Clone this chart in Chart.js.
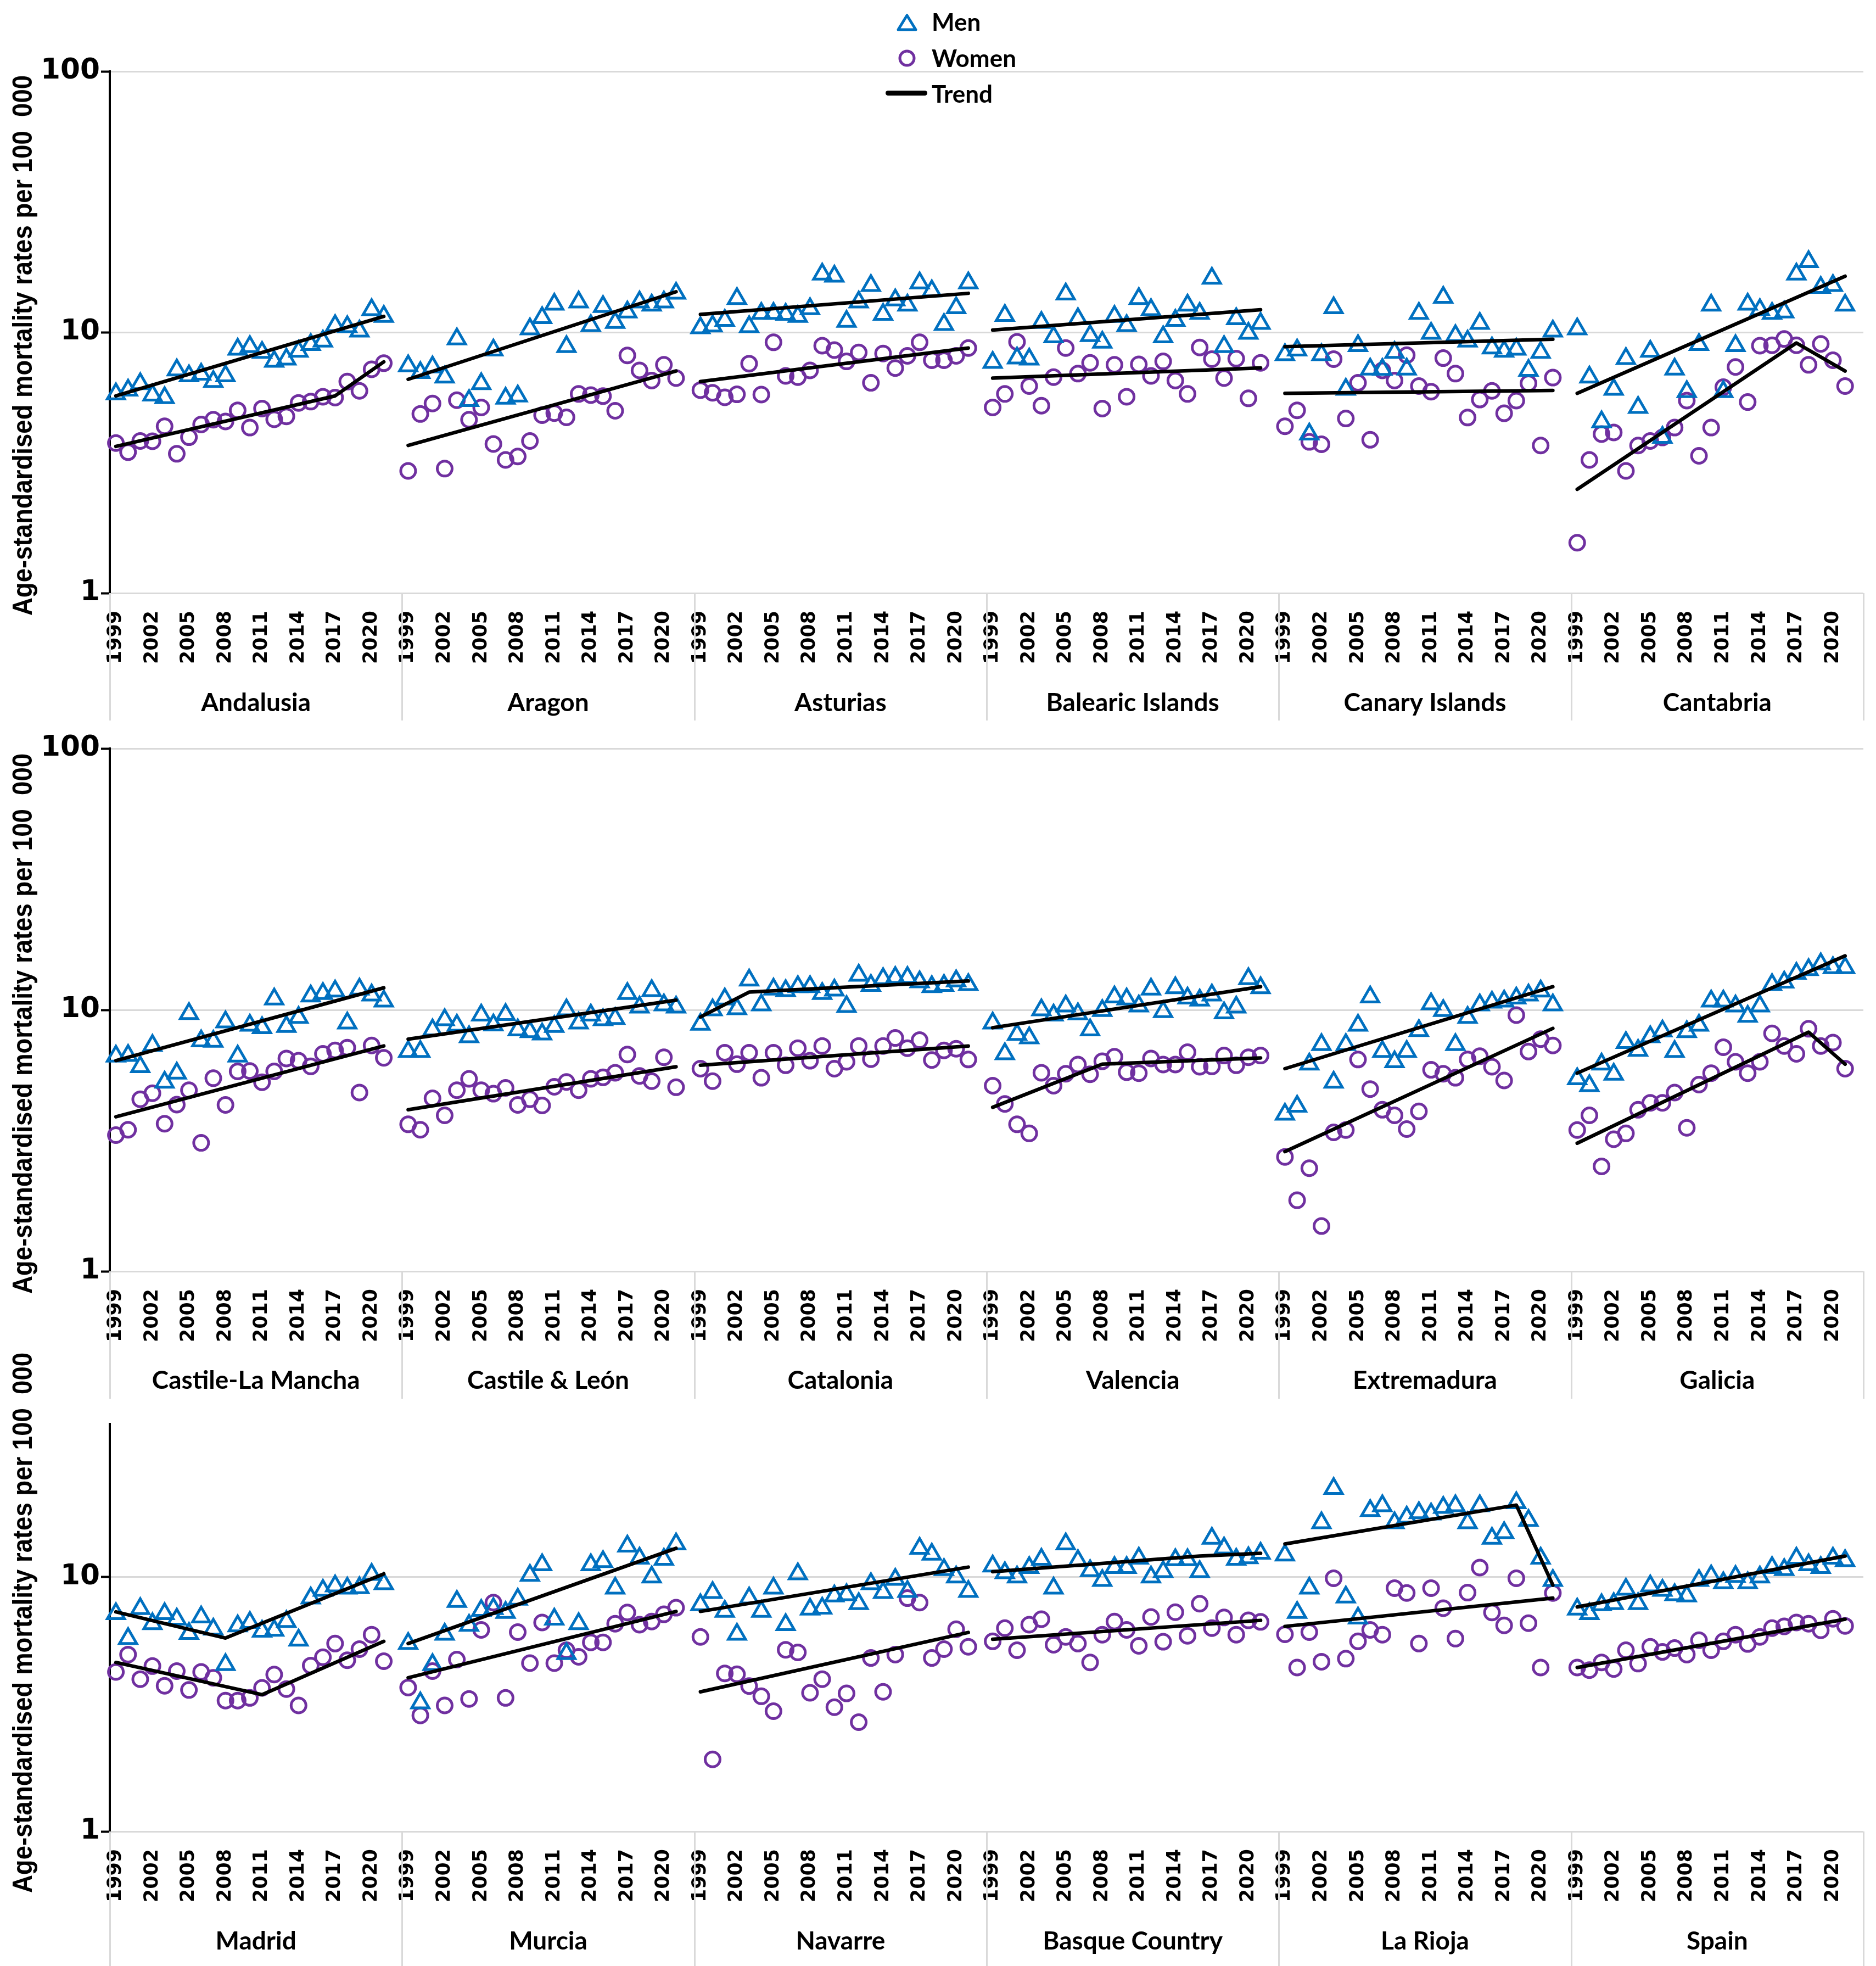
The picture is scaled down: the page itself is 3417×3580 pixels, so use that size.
<!DOCTYPE html>
<html>
<head>
<meta charset="utf-8">
<script src="https://cdn.jsdelivr.net/npm/chart.js@4.4.1/dist/chart.umd.min.js"></script>
<style>
  html, body { margin: 0; padding: 0; background: #fff; }
  #wrap { position: relative; width: 3417px; height: 3580px; overflow: hidden; background: #fff; }
  canvas { position: absolute; left: 0; }
  .ytitle { position: absolute; left: 41px; white-space: nowrap; transform: translate(-50%, -50%) rotate(-90deg);
            font: bold 50px 'Liberation Sans Narrow', 'Liberation Sans', Arial, sans-serif; color: #000; }
  .legtxt { position: absolute; left: 1697px; transform: translateY(-50%); font: bold 44px Lato, 'Open Sans', sans-serif; color: #000; white-space: nowrap; }
  .legsym { position: absolute; }
</style>
</head>
<body>
<div id="wrap">
  <canvas id="row0" width="3417" height="1330" style="top:0px"></canvas>
  <canvas id="row1" width="3417" height="1230" style="top:1330px"></canvas>
  <canvas id="row2" width="3417" height="1020" style="top:2560px"></canvas>
  <div class="ytitle" style="top:629px">Age-standardised mortality rates per 100&nbsp; 000</div>
  <div class="ytitle" style="top:1864px">Age-standardised mortality rates per 100&nbsp; 000</div>
  <div class="ytitle" style="top:2955px">Age-standardised mortality rates per 100&nbsp; 000</div>
  <svg class="legsym" style="left:1632px;top:24px" width="40" height="34"><polygon points="20,4 36,30 4,30" fill="none" stroke="#0070C0" stroke-width="5" stroke-linejoin="round"/></svg>
  <div class="legtxt" style="top:39px">Men</div>
  <svg class="legsym" style="left:1633px;top:87px" width="38" height="38"><circle cx="19" cy="19" r="13" fill="none" stroke="#7030A0" stroke-width="5"/></svg>
  <div class="legtxt" style="top:105px">Women</div>
  <div class="legsym" style="left:1613px;top:165px;width:76px;height:9px;background:#000;border-radius:5px"></div>
  <div class="legtxt" style="top:170px">Trend</div>
</div>
<script>
// ---------------- DATA ----------------
const years = [1999,2000,2001,2002,2003,2004,2005,2006,2007,2008,2009,2010,2011,2012,2013,2014,2015,2016,2017,2018,2019,2020,2021];
const yearTickLabels = [1999,2002,2005,2008,2011,2014,2017,2020];
const regions = ["Andalusia","Aragon","Asturias","Balearic Islands","Canary Islands","Cantabria",
  "Castile-La Mancha","Castile & León","Catalonia","Valencia","Extremadura","Galicia",
  "Madrid","Murcia","Navarre","Basque Country","La Rioja","Spain"];
const yTickValues = [[1,10,100],[1,10,100],[1,10]];
const yMaxValues = [100,100,40];

const menRates = [
  [5.8,6.0,6.35,5.74,5.61,7.17,6.8,6.9,6.47,6.8,8.6,8.8,8.37,7.73,7.89,8.45,8.97,9.24,10.6,10.5,10.1,12.2,11.5],
  [7.43,7.0,7.36,6.73,9.42,5.47,6.35,8.54,5.58,5.69,10.3,11.37,12.8,8.8,13.06,10.6,12.55,10.9,11.95,13.06,12.7,13.06,14.1],
  [10.4,10.56,11.1,13.45,10.5,11.8,11.8,11.7,11.5,12.3,16.7,16.4,11.0,13.06,15.1,11.7,13.3,12.7,15.45,14.4,10.7,12.4,15.45],
  [7.66,11.6,7.96,7.89,10.9,9.6,14.0,11.26,9.7,9.15,11.5,10.6,13.45,12.2,9.6,11.1,12.7,11.8,16.1,8.8,11.26,9.9,10.8],
  [8.2,8.54,4.07,8.2,12.4,6.04,8.88,7.22,7.2,8.37,7.22,11.8,9.9,13.6,9.7,9.24,10.8,8.7,8.45,8.6,7.14,8.37,10.1],
  [10.3,6.73,4.53,6.04,7.92,5.15,8.45,3.95,7.22,5.92,8.97,12.7,5.92,8.88,12.8,12.2,11.8,11.95,16.7,18.65,14.85,15.1,12.7],
  [6.65,6.69,6.06,7.31,5.29,5.73,9.68,7.61,7.58,8.99,6.65,8.73,8.55,11.0,8.64,9.36,11.3,11.55,11.8,8.9,12.0,11.4,10.8],
  [6.93,6.93,8.38,9.17,8.73,7.89,9.55,8.76,9.6,8.38,8.25,8.08,8.64,10.0,8.9,9.55,9.17,9.27,11.55,10.24,11.84,10.45,10.24],
  [8.81,10.0,11.0,10.1,13.0,10.45,12.0,11.84,12.27,12.27,11.55,11.9,10.3,13.56,12.4,13.16,13.3,13.3,12.8,12.27,12.4,12.9,12.5],
  [8.9,6.79,8.05,7.81,10.0,9.55,10.35,9.65,8.38,9.94,11.2,11.0,10.35,12.0,9.84,12.15,11.1,10.9,11.4,9.74,10.24,13.16,12.15],
  [3.99,4.28,6.2,7.36,5.29,7.36,8.73,11.2,6.93,6.33,6.93,8.33,10.55,9.94,7.36,9.36,10.45,10.7,10.8,11.1,11.4,11.8,10.45],
  [5.45,5.13,6.2,5.67,7.5,7.0,7.89,8.3,6.93,8.25,8.73,10.8,10.8,10.35,9.45,10.35,12.5,12.77,13.8,14.25,15.0,14.5,14.5],
  [7.18,5.73,7.52,6.56,7.18,6.83,6.0,6.97,6.24,4.53,6.43,6.63,6.12,6.18,6.69,5.65,8.27,8.87,9.23,9.05,9.08,10.25,9.42],
  [5.48,3.2,4.53,5.96,8.02,6.46,7.4,7.52,7.26,8.18,10.16,11.17,6.83,5.0,6.56,11.17,11.5,9.05,13.24,11.86,10.0,11.74,13.5],
  [7.78,8.69,7.33,5.96,8.27,7.33,9.05,6.5,10.3,7.48,7.55,8.43,8.52,7.86,9.42,8.69,9.8,8.78,12.98,12.3,10.7,10.0,8.78],
  [11.05,10.4,10.0,10.9,11.74,9.05,13.5,11.6,10.6,9.7,10.9,10.9,11.86,10.0,10.5,11.7,11.7,10.5,14.2,13.0,11.74,11.9,12.4],
  [12.2,7.26,9.05,16.35,22.3,8.35,6.9,18.25,19.07,16.35,17.2,17.9,17.7,18.8,19.07,16.35,19.07,14.2,14.94,19.6,16.7,11.86,9.7],
  [7.48,7.18,7.78,7.86,8.96,7.86,9.23,8.87,8.52,8.43,9.7,10.1,9.5,10.05,9.5,10.0,10.9,10.7,11.86,11.17,10.9,11.86,11.6]
];
const womenRates = [
  [3.76,3.47,3.83,3.82,4.36,3.42,3.96,4.43,4.62,4.55,5.02,4.31,5.1,4.64,4.76,5.36,5.42,5.66,5.62,6.47,5.96,7.21,7.61],
  [2.94,4.86,5.33,3.0,5.49,4.62,5.15,3.73,3.24,3.34,3.83,4.81,4.9,4.72,5.8,5.74,5.69,5.0,8.15,7.14,6.53,7.5,6.67],
  [6.0,5.86,5.63,5.78,7.58,5.77,9.15,6.8,6.73,7.14,8.88,8.54,7.73,8.37,6.4,8.29,7.29,8.12,9.15,7.81,7.81,8.12,8.7],
  [5.15,5.8,9.19,6.22,5.23,6.73,8.7,6.94,7.63,5.1,7.5,5.66,7.53,6.8,7.73,6.53,5.8,8.74,7.89,6.67,7.92,5.58,7.63],
  [4.36,5.02,3.8,3.72,7.89,4.67,6.4,3.87,7.14,6.53,8.17,6.22,5.92,7.96,6.94,4.71,5.52,5.96,4.89,5.47,6.37,3.68,6.7],
  [1.56,3.24,4.07,4.13,2.94,3.68,3.83,3.95,4.31,5.47,3.36,4.31,6.16,7.36,5.4,8.88,8.91,9.42,8.91,7.5,9.02,7.81,6.22],
  [3.32,3.48,4.55,4.8,3.67,4.34,4.93,3.1,5.48,4.33,5.82,5.84,5.29,5.82,6.52,6.39,6.08,6.79,7.0,7.17,4.83,7.31,6.56],
  [3.65,3.48,4.59,3.95,4.93,5.45,4.93,4.78,5.03,4.33,4.55,4.31,5.08,5.3,4.93,5.45,5.52,5.75,6.75,5.59,5.34,6.59,5.06],
  [5.96,5.34,6.86,6.2,6.86,5.5,6.86,6.14,7.14,6.39,7.28,5.96,6.33,7.28,6.48,7.28,7.81,7.14,7.66,6.43,7.0,7.1,6.46],
  [5.13,4.37,3.65,3.37,5.75,5.13,5.7,6.18,5.67,6.36,6.62,5.78,5.73,6.52,6.18,6.18,6.89,6.06,6.08,6.69,6.14,6.59,6.69],
  [2.74,1.87,2.48,1.49,3.4,3.47,6.46,4.98,4.15,3.95,3.5,4.09,5.9,5.7,5.5,6.46,6.65,6.06,5.37,9.55,6.93,7.73,7.31],
  [3.47,3.95,2.52,3.2,3.37,4.15,4.41,4.41,4.83,3.54,5.18,5.73,7.2,6.33,5.73,6.33,8.13,7.28,6.79,8.47,7.28,7.5,5.96],
  [4.24,4.96,3.97,4.47,3.74,4.27,3.6,4.24,4.02,3.27,3.27,3.35,3.67,4.14,3.63,3.13,4.49,4.84,5.48,4.71,5.21,5.94,4.67],
  [3.68,2.86,4.27,3.13,4.74,3.32,6.2,7.94,3.35,6.08,4.59,6.63,4.59,5.16,4.86,5.54,5.54,6.56,7.26,6.5,6.69,7.14,7.58],
  [5.82,1.92,4.18,4.15,3.73,3.4,2.97,5.18,5.06,3.51,3.97,3.08,3.49,2.69,4.81,3.54,4.96,8.27,7.94,4.81,5.21,6.24,5.32],
  [5.59,6.3,5.16,6.5,6.83,5.42,5.82,5.48,4.62,5.94,6.69,6.2,5.37,6.97,5.57,7.28,5.88,7.86,6.3,6.94,5.94,6.76,6.67],
  [5.96,4.41,6.08,4.65,9.9,4.78,5.59,6.2,5.94,9.05,8.66,5.48,9.05,7.55,5.73,8.69,10.9,7.26,6.46,9.9,6.59,4.41,8.66],
  [4.41,4.31,4.62,4.35,5.16,4.57,5.32,5.08,5.26,4.96,5.65,5.16,5.59,5.94,5.46,5.82,6.3,6.4,6.63,6.56,6.18,6.86,6.43]
];
// Trend joinpoints: [year, rate]
const menTrend = [
  [[1999,5.7],[2021,11.5]],
  [[1999,6.6],[2021,14.3]],
  [[1999,11.7],[2021,14.1]],
  [[1999,10.2],[2021,12.2]],
  [[1999,8.8],[2021,9.4]],
  [[1999,5.83],[2021,16.4]],
  [[1999,6.4],[2021,12.15]],
  [[1999,7.73],[2021,10.9]],
  [[1999,9.4],[2003,11.7],[2021,12.9]],
  [[1999,8.55],[2021,12.27]],
  [[1999,5.96],[2021,12.27]],
  [[1999,5.73],[2021,16.1]],
  [[1999,7.3],[2008,5.76],[2021,10.3]],
  [[1999,5.48],[2021,12.98]],
  [[1999,7.33],[2021,10.95]],
  [[1999,10.5],[2016,12.1],[2021,12.4]],
  [[1999,13.5],[2018,19.2],[2021,9.3]],
  [[1999,7.63],[2021,12.1]]
];
const womenTrend = [
  [[1999,3.65],[2017,5.7],[2021,7.7]],
  [[1999,3.68],[2021,7.1]],
  [[1999,6.47],[2021,8.7]],
  [[1999,6.67],[2021,7.3]],
  [[1999,5.83],[2021,5.98]],
  [[1999,2.5],[2017,9.1],[2021,7.1]],
  [[1999,3.9],[2021,7.28]],
  [[1999,4.15],[2021,6.06]],
  [[1999,6.14],[2021,7.28]],
  [[1999,4.24],[2008,6.2],[2021,6.55]],
  [[1999,2.87],[2021,8.5]],
  [[1999,3.09],[2018,8.22],[2021,6.2]],
  [[1999,4.62],[2011,3.45],[2021,5.59]],
  [[1999,4.02],[2021,7.33]],
  [[1999,3.54],[2021,6.06]],
  [[1999,5.7],[2021,6.76]],
  [[1999,6.4],[2021,8.27]],
  [[1999,4.41],[2021,6.83]]
];

// ---------------- LAYOUT / STYLE ----------------
const SLOTS = 24;           // category slots per panel (last slot empty)
const PANELS = 6;
const rowLayout = [
  {padTop:130, chartBottom:1080, regionTop:1253, height:1330, sepBottom:1312},
  {padTop:32,  chartBottom:985,  regionTop:1157, height:1230, sepBottom:1217},
  {padTop:7,   chartBottom:775,  regionTop:948,  height:1020, sepBottom:1020}
];
const REGION_AXIS_H = 60;
const BLUE = '#0070C0', PURPLE = '#7030A0', GRID = '#d9d9d9';
const TICK_FAMILY = "'DejaVu Sans', Verdana, sans-serif";

function fitFontSize(family, weight, text, targetWidth) {
  const c = document.createElement('canvas').getContext('2d');
  c.font = weight + ' 100px ' + family;
  return Math.round(1000 * targetWidth / c.measureText(text).width) / 10;
}
const yearFontSize = fitFontSize(TICK_FAMILY, 'bold', '1999', 97);
const yTickFontSize = fitFontSize(TICK_FAMILY, 'bold', '100', 108);

function xOf(p, yr) { return p * SLOTS + (yr - years[0]) + 0.5; }

const separators = {
  id: 'separators',
  afterDraw(chart, args, opts) {
    const {ctx, chartArea} = chart;
    const xs = chart.scales.x;
    ctx.save();
    ctx.strokeStyle = GRID;
    ctx.lineWidth = 3;
    for (let p = 0; p <= PANELS; p++) {
      const px = Math.round(xs.getPixelForValue(p * SLOTS)) + 0.5;
      ctx.beginPath();
      ctx.moveTo(px, chartArea.bottom);
      ctx.lineTo(px, opts.bottom);
      ctx.stroke();
    }
    ctx.restore();
  }
};

function buildRow(r) {
  const L = rowLayout[r];
  const idx = [];
  for (let p = 0; p < PANELS; p++) idx.push(r * PANELS + p);
  const men = [], women = [], tMen = [], tWomen = [];
  idx.forEach((ri, p) => {
    years.forEach((yr, i) => {
      men.push({x: xOf(p, yr), y: menRates[ri][i]});
      women.push({x: xOf(p, yr), y: womenRates[ri][i]});
    });
    menTrend[ri].forEach(([yr, v]) => tMen.push({x: xOf(p, yr), y: v}));
    tMen.push({x: xOf(p, years[years.length - 1]) + 0.5, y: null});
    womenTrend[ri].forEach(([yr, v]) => tWomen.push({x: xOf(p, yr), y: v}));
    tWomen.push({x: xOf(p, years[years.length - 1]) + 0.5, y: null});
  });
  const yearTickPos = [];
  for (let p = 0; p < PANELS; p++) yearTickLabels.forEach(yr => yearTickPos.push(xOf(p, yr)));
  const regionTickPos = [];
  for (let p = 0; p < PANELS; p++) regionTickPos.push(p * SLOTS + SLOTS / 2);
  const rowRegions = idx.map(i => regions[i]);

  const trendStyle = {type: 'line', borderColor: '#000', borderWidth: 6.5, pointRadius: 0, tension: 0,
                      spanGaps: false, borderCapStyle: 'round', borderJoinStyle: 'round', clip: false};
  new Chart(document.getElementById('row' + r), {
    type: 'line',
    data: {
      datasets: [
        Object.assign({label: 'Trend', data: tMen}, trendStyle),
        Object.assign({label: 'Trend (women)', data: tWomen}, trendStyle),
        {label: 'Men', data: men, showLine: false, pointStyle: 'triangle', pointRadius: 18,
         pointBorderWidth: 5, pointBorderColor: BLUE, pointBackgroundColor: 'rgba(0,0,0,0)',
         borderColor: BLUE, clip: false},
        {label: 'Women', data: women, showLine: false, pointStyle: 'circle', pointRadius: 13.5,
         pointBorderWidth: 5, pointBorderColor: PURPLE, pointBackgroundColor: 'rgba(0,0,0,0)',
         borderColor: PURPLE, clip: false}
      ]
    },
    options: {
      responsive: false,
      animation: false,
      devicePixelRatio: 1,
      events: [],
      layout: {padding: {top: L.padTop, bottom: L.height - L.regionTop - REGION_AXIS_H, left: 0, right: 7}},
      plugins: {legend: {display: false}, tooltip: {enabled: false}, separators: {bottom: L.sepBottom}},
      scales: {
        x: {
          type: 'linear', position: 'bottom', min: 0, max: PANELS * SLOTS,
          afterBuildTicks: ax => { ax.ticks = yearTickPos.map(v => ({value: v})); },
          afterFit: ax => { ax.height = L.regionTop - L.chartBottom; ax.paddingLeft = 0; ax.paddingRight = 0; },
          // invisible tick marks provide the gap between the axis and the year labels
          grid: {display: false, drawTicks: true, tickLength: 32},
          border: {display: false},
          ticks: {
            autoSkip: false, minRotation: 90, maxRotation: 90, padding: 0, color: '#000',
            font: {family: TICK_FAMILY, weight: 'bold', size: yearFontSize},
            callback: v => String(years[0] + (Math.round(v - 0.5) % SLOTS))
          }
        },
        x2: {
          type: 'linear', position: 'bottom', min: 0, max: PANELS * SLOTS,
          afterBuildTicks: ax => { ax.ticks = regionTickPos.map(v => ({value: v})); },
          afterFit: ax => { ax.height = REGION_AXIS_H; ax.paddingLeft = 0; ax.paddingRight = 0; },
          grid: {display: false, drawTicks: false},
          border: {display: false},
          ticks: {
            autoSkip: false, maxRotation: 0, minRotation: 0, padding: 0, color: '#000',
            font: {family: "Lato", weight: 'bold', size: 46},
            callback: (v, i) => rowRegions[i]
          }
        },
        y: {
          type: 'logarithmic', position: 'left', min: 1, max: yMaxValues[r],
          afterBuildTicks: ax => { ax.ticks = yTickValues[r].map(v => ({value: v})); },
          afterFit: ax => { ax.width = 200; },
          grid: {color: GRID, lineWidth: 3, drawTicks: true, tickLength: 16, tickColor: '#000', tickWidth: 4},
          border: {color: '#000', width: 4},
          ticks: {
            padding: 2, color: '#000',
            font: {family: TICK_FAMILY, weight: 'bold', size: yTickFontSize},
            callback: v => String(v)
          }
        }
      }
    },
    plugins: [separators]
  });
}

[0, 1, 2].forEach(buildRow);

// fit the rotated axis titles to the reference length
document.querySelectorAll('.ytitle').forEach(el => {
  const k = 984 / el.offsetWidth;
  el.style.transform = 'translate(-50%, -50%) rotate(-90deg) scaleX(' + k.toFixed(4) + ')';
});
</script>
</body>
</html>
